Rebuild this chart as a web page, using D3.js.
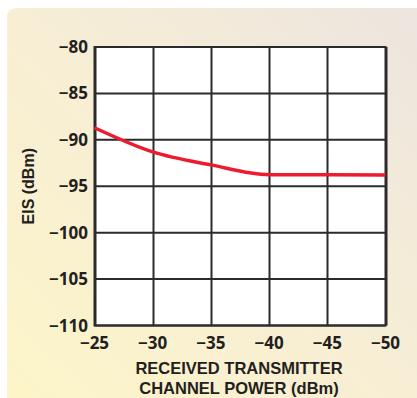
<!DOCTYPE html>
<html><head><meta charset="utf-8">
<script src="https://cdn.jsdelivr.net/npm/d3@7"></script>
<style>
html,body{margin:0;padding:0;background:#fff;}
svg{display:block;}
text{font-family:"Open Sans",sans-serif;font-weight:700;fill:#231f20;}
text.title{font-family:"Liberation Sans",Arial,sans-serif;}
</style></head><body>
<script>
const powerValues = [-25, -30, -35, -40, -45, -50];
const eisValues = [-88.7, -91.3, -92.7, -93.75, -93.75, -93.8];
const xTicks = [-25, -30, -35, -40, -45, -50];
const yTicks = [-80, -85, -90, -95, -100, -105, -110];
const yTitle = "EIS (dBm)";
const xTitleLines = ["RECEIVED TRANSMITTER", "CHANNEL POWER (dBm)"];

const W = 417, H = 398;
const m = {left: 94.5, right: 385.5, top: 47, bottom: 325.5};
const svg = d3.select("body").append("svg").attr("width", W).attr("height", H);

const defs = svg.append("defs");
const g = defs.append("linearGradient").attr("id","bg").attr("x1","0").attr("y1","1").attr("x2","1").attr("y2","0");
g.append("stop").attr("offset","0").attr("stop-color","#fdf5c8");
g.append("stop").attr("offset","0.5").attr("stop-color","#f7eed5");
g.append("stop").attr("offset","1").attr("stop-color","#ede5df");
svg.append("path").attr("d","M7,18 Q7,8 17,8 L417,8 L417,398 L7,398 Z").attr("fill","url(#bg)");

const x = d3.scaleLinear().domain([-25, -50]).range([m.left, m.right]);
const y = d3.scaleLinear().domain([-110, -80]).range([m.bottom, m.top]);

svg.append("rect").attr("x", m.left).attr("y", m.top).attr("width", m.right - m.left).attr("height", m.bottom - m.top).attr("fill", "#fff");

const grid = svg.append("g").attr("stroke", "#2b2b2b").attr("stroke-width", 2);
grid.selectAll(".vx").data(xTicks).join("line")
  .attr("x1", d => Math.round(x(d)) + 0.5).attr("x2", d => Math.round(x(d)) + 0.5)
  .attr("y1", m.top).attr("y2", m.bottom);
grid.selectAll(".hy").data(yTicks).join("line")
  .attr("y1", d => y(d)).attr("y2", d => y(d))
  .attr("x1", m.left).attr("x2", m.right);
svg.append("rect").attr("x", m.left).attr("y", m.top).attr("width", m.right - m.left).attr("height", m.bottom - m.top)
  .attr("fill", "none").attr("stroke", "#2b2b2b").attr("stroke-width", 2);

const line = d3.line().x((d,i) => x(powerValues[i])).y(d => y(d)).curve(d3.curveMonotoneX);
svg.append("path").datum(eisValues).attr("d", line).attr("fill", "none")
  .attr("stroke", "#ec1c2e").attr("stroke-width", 3.5);

const fmt = d => (d < 0 ? "\u2212" + Math.abs(d) : String(d));
svg.selectAll(".yl").data(yTicks).join("text")
  .attr("x", 88).attr("y", d => y(d) + 6).attr("text-anchor", "end")
  .attr("font-size", 17).text(fmt);
svg.selectAll(".xl").data(xTicks).join("text")
  .attr("x", d => x(d)).attr("y", m.bottom + 23).attr("text-anchor", "middle")
  .attr("font-size", 17).text(fmt);

svg.append("text").attr("class","title").attr("transform", `translate(34,${(m.top + m.bottom) / 2}) rotate(-90)`)
  .attr("text-anchor", "middle").attr("font-size", 16).text(yTitle);
svg.selectAll(".xt").data(xTitleLines).join("text").attr("class","title")
  .attr("x", 239).attr("y", (d,i) => 374 + i * 19.5).attr("text-anchor", "middle")
  .attr("font-size", 16.5).text(d => d);
</script>
</body></html>
